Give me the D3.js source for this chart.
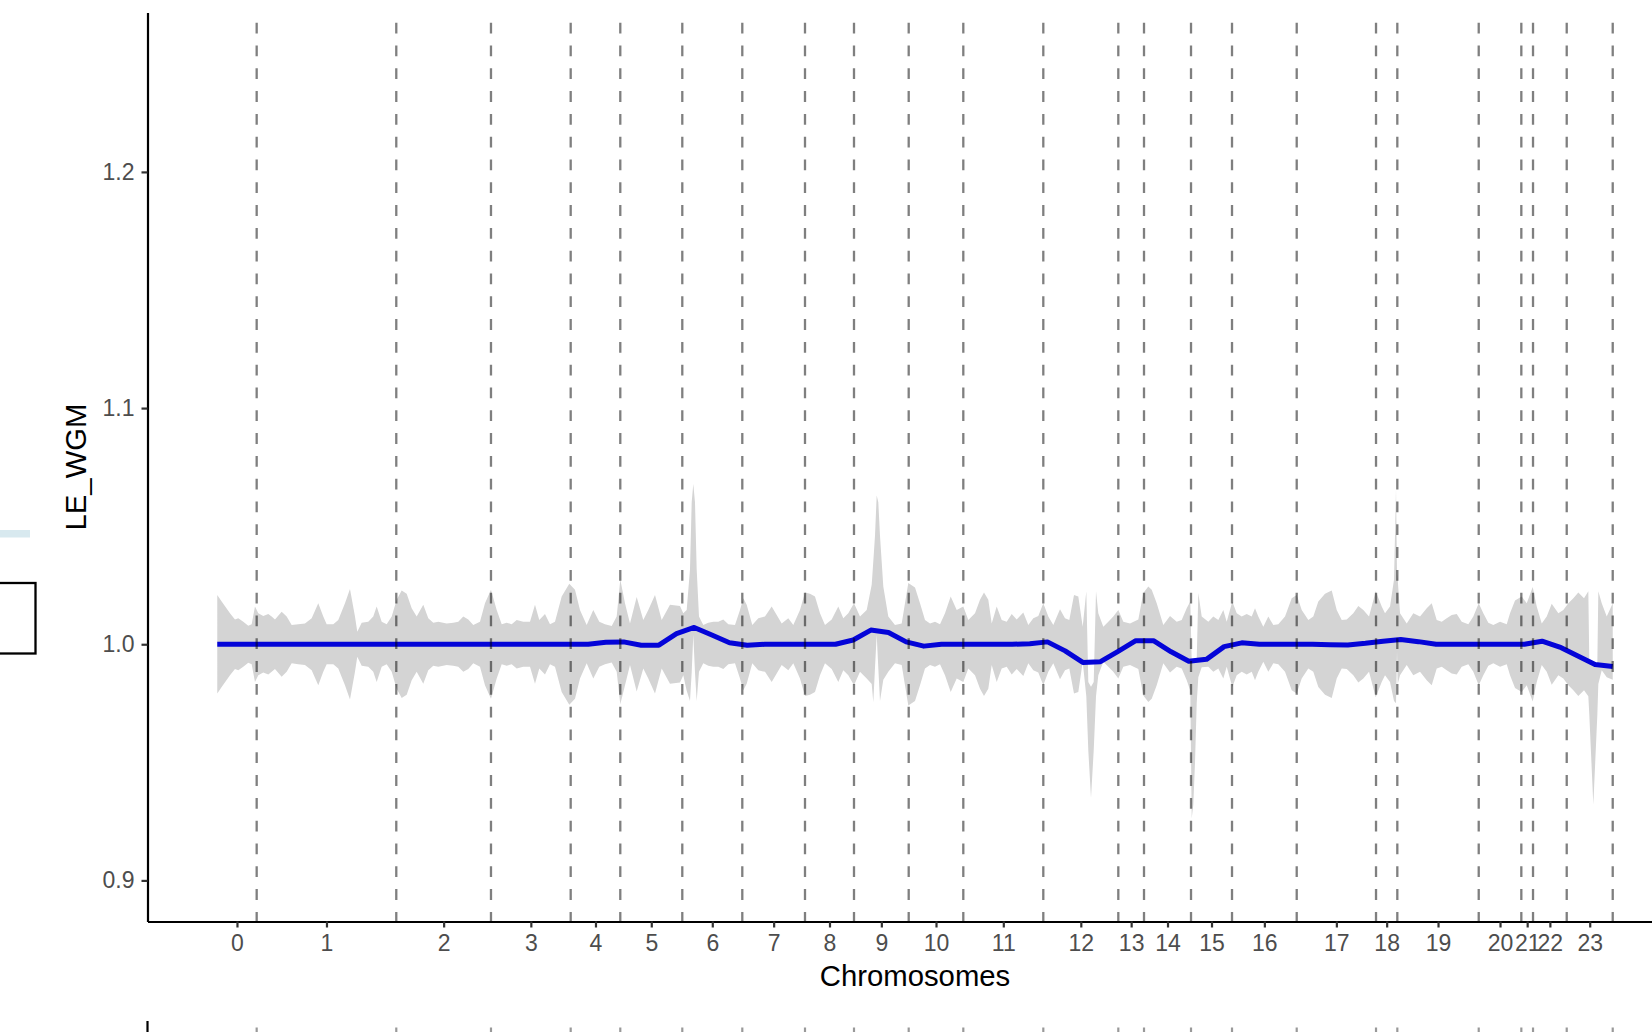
<!DOCTYPE html>
<html><head><meta charset="utf-8">
<script src="https://cdn.jsdelivr.net/npm/d3@7"></script>
<style>body{margin:0;background:#fff}svg{display:block}</style>
</head><body>
<svg id="chart" width="1652" height="1032"></svg>
<script>
// ---------------- data ----------------
const chromosomes = ["0","1","2","3","4","5","6","7","8","9","10","11","12","13","14","15","16","17","18","19","20","21","22","23"];
// chromosome lengths (Mb)
const chromLengths = [7.88,27.92,18.94,15.94,9.92,12.4,12.0,12.54,9.8,10.94,10.92,16.0,15.0,5.14,9.4,8.2,12.94,15.86,4.26,16.28,8.52,2.34,6.74,9.2];
const yTicks = [0.9, 1.0, 1.1, 1.2];
const yDomain = [0.8826, 1.2675];
// smoothed LE_WGM (80 evenly spaced bins along the genome)
const lineValues = [
 1.0,1.0,1.0,1.0,1.0,1.0,1.0,1.0,1.0,1.0,1.0,1.0,1.0,1.0,1.0,1.0,1.0,1.0,1.0,1.0,1.0,1.0,
 1.0008,1.001,0.9996,0.9996,1.0045,1.0071,1.0039,1.0006,0.9996,1.0,1.0,1.0,1.0,1.0,
 1.0018,1.006,1.005,1.001,0.9992,1.0,1.0,1.0,1.0,1.0,1.0002,1.001,0.9972,0.9923,
 0.9926,0.997,1.0015,1.0015,0.9968,0.9928,0.9936,0.999,1.0006,1.0,1.0,1.0,1.0,0.9998,
 0.9997,1.0004,1.0013,1.002,1.0011,1.0,1.0,1.0,1.0,1.0,1.0,1.0013,0.9988,0.9951,0.9914,0.9906];
// confidence ribbon: genome position (Mb), upper and lower bound
const ribbonPos = [0,0.88,2.54,3.54,4.2,5.2,6.2,6.88,7.54,8.2,9.2,10.2,10.88,11.54,12.88,13.88,14.88,16.2,17.54,18.88,20.2,21.2,21.88,23.2,24.2,25.54,26.54,27.54,28.0,28.88,30.2,31.2,31.88,32.88,33.88,34.88,35.88,36.88,37.88,38.88,39.88,41.2,42.2,43.2,44.2,45.88,47.2,48.2,49.2,50.2,51.2,52.54,53.54,54.74,55.88,56.88,57.88,58.88,59.88,61.2,62.54,63.54,64.4,65.54,66.54,67.54,68.88,70.4,71.54,72.54,73.88,75.2,76.4,77.54,78.88,79.88,80.6,81.54,82.54,83.88,85.2,86.2,87.54,88.88,90.54,92.54,93.2,93.88,94.54,94.88,95.2,95.54,95.88,96.34,97.2,98.2,99.2,100.2,101.2,102.2,103.54,104.54,105.2,105.88,107.0,108.2,109.54,110.88,111.88,112.88,114.2,115.2,116.54,117.54,118.54,119.54,120.54,121.54,122.88,124.2,125.2,126.2,127.34,128.54,129.88,130.88,131.2,131.54,131.88,132.2,132.54,133.2,134.2,135.54,136.88,138.2,139.54,140.54,141.54,142.54,143.54,144.54,145.54,146.68,147.88,149.2,150.2,151.54,152.54,153.34,154.2,154.88,155.88,156.88,157.88,158.88,159.88,161.2,162.2,163.2,164.2,165.2,166.2,167.2,168.54,169.54,170.4,171.34,172.2,173.08,173.8,174.2,174.74,175.28,175.74,176.2,177.2,178.2,179.2,180.2,181.2,182.54,184.2,185.2,186.2,186.88,187.88,189.2,190.54,191.88,192.88,193.88,194.6,194.88,195.2,195.54,195.88,196.2,196.88,198.2,199.2,200.2,201.2,201.88,203.0,203.88,204.88,205.88,206.88,207.54,208.2,209.2,210.2,211.2,212.2,213.54,214.88,215.88,216.88,218.2,219.2,220.2,221.54,222.88,223.88,224.88,225.88,227.2,228.2,229.2,230.34,231.68,232.88,233.54,234.54,235.34,235.74,235.94,236.08,236.54,237.88,239.2,240.54,241.88,242.88,243.88,244.88,245.88,246.88,247.88,248.88,250.2,251.2,252.28,253.2,254.2,255.2,256.54,257.88,258.54,259.54,260.88,261.88,263.08,263.88,264.88,265.88,266.88,268.2,269.2,270.2,271.2,272.2,273.34,274.2,274.4,275.2,276.0,276.2,276.88,277.88,279.08];
const ribbonHi = [1.0209,1.0181,1.0131,1.0105,1.011,1.0095,1.0078,1.0085,1.016,1.0131,1.012,1.0128,1.0117,1.0105,1.0138,1.0117,1.0081,1.0085,1.0088,1.011,1.0174,1.0117,1.0085,1.0085,1.0103,1.0174,1.0234,1.0117,1.0053,1.0091,1.0095,1.0117,1.016,1.0095,1.0085,1.0117,1.0188,1.0228,1.0214,1.0152,1.0117,1.0167,1.011,1.0091,1.0095,1.0088,1.0091,1.0095,1.0117,1.0105,1.0081,1.0095,1.0174,1.0231,1.0145,1.0085,1.0091,1.0085,1.0103,1.0095,1.0095,1.0167,1.0103,1.0128,1.0085,1.0095,1.0202,1.0256,1.0231,1.0145,1.0081,1.0145,1.0095,1.0085,1.0077,1.0117,1.0274,1.0174,1.0088,1.02,1.0103,1.0145,1.0209,1.0103,1.0167,1.0162,1.0131,1.0145,1.0316,1.0601,1.0679,1.0601,1.0316,1.0117,1.0081,1.0091,1.0095,1.0095,1.0105,1.0085,1.0081,1.0145,1.0195,1.0167,1.0081,1.011,1.0117,1.016,1.0124,1.0088,1.011,1.0081,1.0145,1.0219,1.0214,1.0202,1.0131,1.0081,1.0105,1.016,1.011,1.0131,1.0174,1.0117,1.0145,1.0252,1.035,1.0459,1.063,1.0601,1.0459,1.0245,1.0117,1.0081,1.0088,1.0259,1.024,1.0174,1.0103,1.0088,1.0095,1.0085,1.0131,1.0202,1.0145,1.016,1.0103,1.0131,1.0188,1.0219,1.0188,1.0088,1.016,1.0103,1.0095,1.0128,1.0105,1.0134,1.0081,1.011,1.012,1.0174,1.0117,1.0081,1.0148,1.011,1.0103,1.0209,1.0202,1.0074,1.0224,0.984,0.982,0.984,1.0224,1.0131,1.0074,1.0095,1.0117,1.0145,1.0095,1.0088,1.0105,1.0217,1.0245,1.0231,1.0174,1.0081,1.012,1.0095,1.0103,1.0152,1.0181,0.9932,0.9925,0.9925,0.9932,1.0217,1.0117,1.0095,1.0117,1.0103,1.0145,1.0095,1.0181,1.0131,1.0117,1.0128,1.0117,1.0152,1.0117,1.0074,1.0117,1.0081,1.0085,1.0117,1.0195,1.0209,1.0145,1.0103,1.0117,1.0181,1.0214,1.0228,1.0145,1.0103,1.0105,1.0131,1.0162,1.0145,1.0117,1.0224,1.016,1.0131,1.016,1.0274,1.0658,1.03,1.0274,1.0131,1.0088,1.0131,1.0117,1.0152,1.0174,1.0103,1.0095,1.011,1.0124,1.0128,1.0095,1.0085,1.0117,1.0174,1.0131,1.0091,1.0081,1.0095,1.0085,1.0131,1.0185,1.0202,1.0174,1.0242,1.016,1.0088,1.0117,1.0171,1.0131,1.0145,1.0174,1.0195,1.0219,1.0195,1.0224,0.9917,0.991,0.9917,1.0224,1.0174,1.0117,1.0174];
const ribbonLo = [0.9791,0.9819,0.9869,0.9895,0.989,0.9905,0.9922,0.9915,0.984,0.9869,0.988,0.9872,0.9883,0.9895,0.9862,0.9883,0.9919,0.9915,0.9912,0.989,0.9826,0.9883,0.9915,0.9915,0.9897,0.9826,0.9766,0.9883,0.9947,0.9909,0.9905,0.9883,0.984,0.9905,0.9915,0.9883,0.9812,0.9772,0.9786,0.9848,0.9883,0.9833,0.989,0.9909,0.9905,0.9912,0.9909,0.9905,0.9883,0.9895,0.9919,0.9905,0.9826,0.9769,0.9855,0.9915,0.9909,0.9915,0.9897,0.9905,0.9905,0.9833,0.9897,0.9872,0.9915,0.9905,0.9798,0.9744,0.9769,0.9855,0.9919,0.9855,0.9905,0.9915,0.9923,0.9883,0.9746,0.9826,0.9912,0.98,0.9897,0.9855,0.9791,0.9897,0.9833,0.9838,0.9869,0.9803,0.976,0.988,1.004,0.988,0.976,0.9883,0.9919,0.9909,0.9905,0.9905,0.9895,0.9915,0.9919,0.9855,0.9805,0.9833,0.9919,0.989,0.9883,0.984,0.9876,0.9912,0.989,0.9919,0.9855,0.9781,0.9786,0.9798,0.9869,0.9919,0.9895,0.984,0.989,0.9869,0.9826,0.9883,0.9855,0.9832,0.9754,0.99,1.004,0.99,0.976,0.985,0.9883,0.9919,0.9912,0.9741,0.976,0.9826,0.9897,0.9912,0.9905,0.9915,0.9869,0.9798,0.9855,0.984,0.9897,0.9869,0.9812,0.9781,0.9812,0.9912,0.984,0.9897,0.9905,0.9872,0.9895,0.9866,0.9919,0.989,0.988,0.9826,0.9883,0.9919,0.9852,0.989,0.9897,0.9791,0.9798,0.9926,0.978,0.955,0.935,0.955,0.978,0.9869,0.9926,0.9905,0.9883,0.9855,0.9905,0.9912,0.9895,0.9783,0.9755,0.9769,0.9826,0.9919,0.988,0.9905,0.9897,0.9848,0.9803,0.9262,0.932,0.95,0.975,0.986,0.9903,0.9905,0.9883,0.9897,0.9855,0.9905,0.9819,0.9869,0.9883,0.9872,0.9883,0.9848,0.9883,0.9926,0.9883,0.9919,0.9915,0.9883,0.9805,0.9791,0.9855,0.9897,0.9883,0.9819,0.9786,0.9772,0.9855,0.9897,0.9895,0.9869,0.9838,0.9855,0.9883,0.9776,0.984,0.9869,0.984,0.976,0.975,0.997,0.9832,0.9869,0.9912,0.9869,0.9883,0.9848,0.9826,0.9897,0.9905,0.989,0.9876,0.9872,0.9905,0.9915,0.9883,0.9826,0.9869,0.9909,0.9919,0.9905,0.9915,0.9869,0.9815,0.9798,0.9826,0.9758,0.984,0.9912,0.9883,0.9829,0.9869,0.9855,0.9826,0.9805,0.9781,0.9805,0.978,0.97,0.932,0.97,0.9832,0.989,0.986,0.985];

// ---------------- chart ----------------
const svg = d3.select("#chart");
const total = d3.sum(chromLengths);
const ends = Array.from(d3.cumsum(chromLengths));
const mids = ends.map((e, i) => e - chromLengths[i] / 2);

const panel = {left: 147.5, right: 1682.5, top: 12.5, bottom: 921.5};
const x = d3.scaleLinear().domain([-0.05 * total, 1.05 * total]).range([panel.left, panel.right]);
const y = d3.scaleLinear().domain(yDomain).range([panel.bottom, panel.top]);

// stray elements from neighbouring panels (cropped)
svg.append("rect").attr("x", 0).attr("y", 530).attr("width", 30).attr("height", 7.5).attr("fill", "#d8e9ef");
svg.append("rect").attr("x", -5).attr("y", 583).attr("width", 40.5).attr("height", 70.5)
  .attr("fill", "none").attr("stroke", "#000").attr("stroke-width", 2.3);

// ribbon
const ribbon = ribbonPos.map((p, i) => ({p, hi: ribbonHi[i], lo: ribbonLo[i]}));
svg.append("path").datum(ribbon)
  .attr("fill", "#d4d4d4")
  .attr("d", d3.area().x(d => x(d.p)).y0(d => y(d.lo)).y1(d => y(d.hi)));

// smoothed line
const step = total / (lineValues.length - 1);
const linePts = lineValues.map((v, i) => ({p: i * step, v}));
svg.append("path").datum(linePts)
  .attr("fill", "none").attr("stroke", "#0404d8").attr("stroke-width", 5)
  .attr("stroke-linejoin", "round")
  .attr("d", d3.line().x(d => x(d.p)).y(d => y(d.v)));

// chromosome boundaries
svg.append("g").selectAll("line").data(ends).join("line")
  .attr("x1", d => x(d)).attr("x2", d => x(d))
  .attr("y1", panel.top).attr("y2", panel.bottom)
  .attr("stroke", "#000").attr("stroke-opacity", 0.5).attr("stroke-width", 2.3)
  .attr("stroke-dasharray", "10.8 12").attr("stroke-dashoffset", 12.6);

// axes
const tickFont = "'Liberation Sans', Arial, Helvetica, sans-serif";
const yAxis = svg.append("g").attr("transform", `translate(${panel.left},0)`)
  .call(d3.axisLeft(y).tickValues(yTicks).tickFormat(d3.format(".1f")).tickSize(6).tickSizeOuter(0).tickPadding(7));
const xAxis = svg.append("g").attr("transform", `translate(0,${panel.bottom})`)
  .call(d3.axisBottom(x).tickValues(mids).tickFormat((d, i) => chromosomes[i]).tickSize(6).tickSizeOuter(0).tickPadding(7.5));
[xAxis, yAxis].forEach(g => {
  g.select(".domain").attr("stroke", "#000").attr("stroke-width", 2.2);
  g.selectAll(".tick line").attr("stroke", "#333").attr("stroke-width", 2.2);
  g.selectAll(".tick text").attr("fill", "#4d4d4d").style("font-family", tickFont).style("font-size", "23px");
});

// titles
svg.append("text").attr("x", (panel.left + panel.right) / 2).attr("y", 986)
  .attr("text-anchor", "middle").style("font-family", tickFont).style("font-size", "29.3px").attr("fill", "#000")
  .text("Chromosomes");
svg.append("text").attr("transform", `translate(86,${(panel.top + panel.bottom) / 2}) rotate(-90)`)
  .attr("text-anchor", "middle").style("font-family", tickFont).style("font-size", "29.3px").attr("fill", "#000")
  .text("LE_WGM");

// start of the next panel below (cropped)
svg.append("line").attr("x1", panel.left).attr("x2", panel.left).attr("y1", 1021).attr("y2", 1032)
  .attr("stroke", "#000").attr("stroke-width", 2.2);
svg.append("g").selectAll("line").data(ends).join("line")
  .attr("x1", d => x(d)).attr("x2", d => x(d)).attr("y1", 1027.5).attr("y2", 1032)
  .attr("stroke", "#000").attr("stroke-opacity", 0.4).attr("stroke-width", 2.2);
</script>
</body></html>
